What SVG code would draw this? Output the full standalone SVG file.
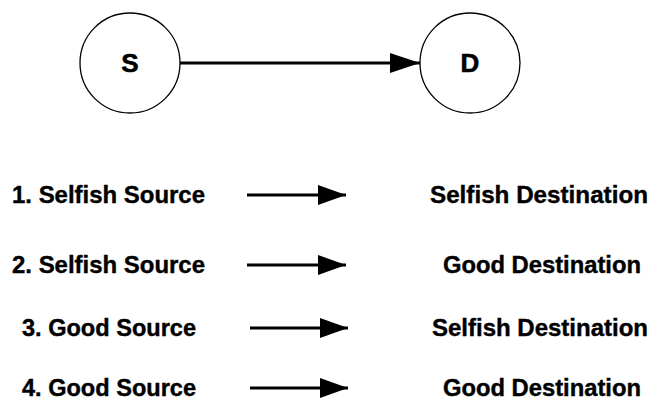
<svg xmlns="http://www.w3.org/2000/svg" width="653" height="406" viewBox="0 0 653 406">
  <style>
    .node circle { fill: #ffffff; stroke: #000000; stroke-width: 1.3; }
    .node text { font-family: "Liberation Sans", Arial, sans-serif; font-weight: bold; font-size: 26px; text-anchor: middle; fill: #000; stroke: #000; stroke-width: 0.6; }
    .label { font-family: "Liberation Sans", Arial, sans-serif; font-weight: bold; font-size: 24px; fill: #000; stroke: #000; stroke-width: 0.4; }
    .edge { stroke: #000; stroke-width: 3; fill: none; }
  </style>
  <defs>
    <marker id="bighead" viewBox="0 0 30 20" refX="30" refY="10" markerWidth="30" markerHeight="20" orient="auto" markerUnits="userSpaceOnUse">
      <path d="M0,0 L30,10 L0,20 Z" fill="#000"/>
    </marker>
    <marker id="rowhead" viewBox="0 0 28 20" refX="28" refY="10" markerWidth="28" markerHeight="20" orient="auto" markerUnits="userSpaceOnUse">
      <path d="M0,0 L28,10 L0,20 Z" fill="#000"/>
    </marker>
  </defs>

  <g id="node-S" class="node">
    <circle cx="130" cy="63" r="50"/>
    <text x="130" y="72">S</text>
  </g>
  <g id="node-D" class="node">
    <circle cx="470" cy="63" r="50"/>
    <text x="470" y="72">D</text>
  </g>

  <g id="connectors">
    <line class="edge" x1="180" y1="63" x2="420" y2="63" marker-end="url(#bighead)"/>
    <line class="edge" x1="247" y1="195" x2="346" y2="195" marker-end="url(#rowhead)"/>
    <line class="edge" x1="247" y1="265" x2="346" y2="265" marker-end="url(#rowhead)"/>
    <line class="edge" x1="250" y1="328" x2="348" y2="328" marker-end="url(#rowhead)"/>
    <line class="edge" x1="250" y1="388" x2="348" y2="388" marker-end="url(#rowhead)"/>
  </g>

  <g id="cases">
    <text class="label" x="12" y="203" textLength="193" lengthAdjust="spacingAndGlyphs">1. Selfish Source</text>
    <text class="label" x="430" y="203" textLength="218" lengthAdjust="spacingAndGlyphs">Selfish Destination</text>
    <text class="label" x="12" y="273" textLength="193" lengthAdjust="spacingAndGlyphs">2. Selfish Source</text>
    <text class="label" x="443" y="273" textLength="198" lengthAdjust="spacingAndGlyphs">Good Destination</text>
    <text class="label" x="22" y="336" textLength="174" lengthAdjust="spacingAndGlyphs">3. Good Source</text>
    <text class="label" x="432" y="336" textLength="216" lengthAdjust="spacingAndGlyphs">Selfish Destination</text>
    <text class="label" x="22" y="396" textLength="174" lengthAdjust="spacingAndGlyphs">4. Good Source</text>
    <text class="label" x="443" y="396" textLength="198" lengthAdjust="spacingAndGlyphs">Good Destination</text>
  </g>
</svg>
